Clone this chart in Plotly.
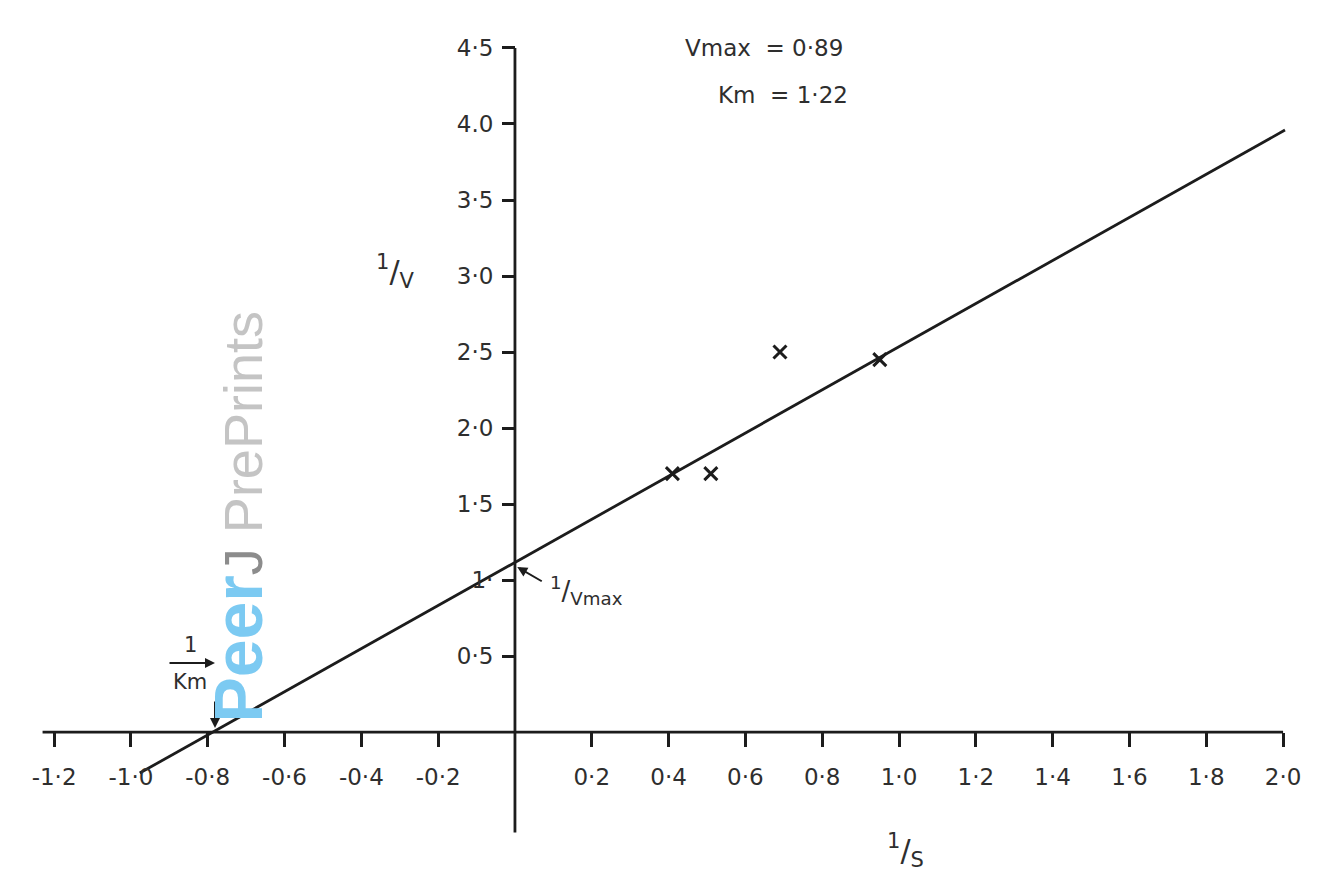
import plotly.graph_objects as go

# ---- data ----
s_inv = [0.41, 0.51, 0.69, 0.95]          # 1/S of measured points
v_inv = [1.70, 1.70, 2.50, 2.45]          # 1/V of measured points
fit_x = [-0.977, 2.005]                   # ends of fitted line (1/S)
fit_y = [-0.27, 3.96]                     # ends of fitted line (1/V)

x_ticks = [-1.2, -1.0, -0.8, -0.6, -0.4, -0.2, 0.2, 0.4, 0.6, 0.8, 1.0, 1.2, 1.4, 1.6, 1.8, 2.0]
x_labels = ["-1·2", "-1·0", "-0·8", "-0·6", "-0·4", "-0·2", "0·2", "0·4", "0·6", "0·8",
            "1·0", "1·2", "1·4", "1·6", "1·8", "2·0"]
y_ticks = [0.5, 1.0, 1.5, 2.0, 2.5, 3.0, 3.5, 4.0, 4.5]
y_labels = ["0·5", "1·", "1·5", "2·0", "2·5", "3·0", "3·5", "4.0", "4·5"]

vmax = "0·89"
km = "1·22"

X_RANGE = [-1.320, 2.130]
Y_RANGE = [-0.993, 4.763]
INK = "#1c1c1c"
TXT = "#2e2e2e"
FONT = "DejaVu Sans"

fig = go.Figure()

fig.add_trace(go.Scatter(x=fit_x, y=fit_y, mode="lines",
                         line=dict(color=INK, width=2.8), hoverinfo="skip"))
fig.add_trace(go.Scatter(x=s_inv, y=v_inv, mode="markers",
                         marker=dict(symbol="x-thin", size=13,
                                     line=dict(color=INK, width=3))))

# axis lines crossing at the origin
fig.add_shape(type="line", x0=min(x_ticks) - 0.03, x1=max(x_ticks), y0=0, y1=0,
              line=dict(color=INK, width=2.8), layer="below")
fig.add_shape(type="line", x0=0, x1=0, y0=-0.66, y1=max(y_ticks),
              line=dict(color=INK, width=2.8), layer="below")

xpos = (0 - Y_RANGE[0]) / (Y_RANGE[1] - Y_RANGE[0])
ypos = (0 - X_RANGE[0]) / (X_RANGE[1] - X_RANGE[0])

fig.update_xaxes(range=X_RANGE, anchor="free", position=xpos, showgrid=False,
                 zeroline=False, showline=False, tickmode="array", automargin=False,
                 tickvals=x_ticks, ticktext=x_labels, ticks="outside",
                 ticklen=14, tickwidth=2.5, tickcolor=INK, ticklabelstandoff=10,
                 tickfont=dict(family=FONT, size=23, color=TXT))
fig.update_yaxes(range=Y_RANGE, anchor="free", position=ypos, showgrid=False,
                 zeroline=False, showline=False, tickmode="array", automargin=False,
                 tickvals=y_ticks, ticktext=y_labels, ticks="outside",
                 ticklen=13, tickwidth=2.5, tickcolor=INK, ticklabelstandoff=4,
                 tickfont=dict(family=FONT, size=23, color=TXT))

def note(text, x, y, size=23, xanchor="center", yanchor="middle"):
    fig.add_annotation(x=x, y=y, text=text, showarrow=False, xanchor=xanchor,
                       yanchor=yanchor, font=dict(family=FONT, size=size, color=TXT))

note(f"Vmax  = {vmax}", 0.859, 4.50, xanchor="right")
note(f"Km  = {km}", 0.872, 4.19, xanchor="right")
note("<sup>1</sup>/<sub>V</sub>", -0.3125, 3.03, size=30)
note("<sup>1</sup>/<sub>S</sub>", 1.016, -0.776, size=30)
note("<sup>1</sup>/<sub>Vmax</sub>", 0.086, 0.93, size=26, xanchor="left")
note("1", -0.846, 0.572, size=21)
note("Km", -0.846, 0.33, size=21)

# arrows
fig.add_annotation(x=0.006, y=1.085, ax=26, ay=15, text="", showarrow=True,
                   arrowhead=2, arrowsize=1, arrowwidth=2, arrowcolor=INK)
fig.add_annotation(x=-0.781, y=0.454, ax=-47, ay=0, text="", showarrow=True,
                   arrowhead=2, arrowsize=1, arrowwidth=2, arrowcolor=INK)
fig.add_annotation(x=-0.781, y=0.026, ax=0, ay=-28, text="", showarrow=True,
                   arrowhead=2, arrowsize=1, arrowwidth=2, arrowcolor=INK)

# watermark
fig.add_annotation(x=-0.72, y=1.42, textangle=-90, showarrow=False,
                   text="<b><span style='color:#7ccaf2;font-size:68px'>Peer</span></b>"
                        "<span style='color:#8c8c8c'>J</span> "
                        "<span style='color:#c4c4c4'>PrePrints</span>",
                   font=dict(family="Liberation Sans", size=54))

fig.update_layout(width=1325, height=875, margin=dict(l=0, r=0, t=0, b=0),
                  paper_bgcolor="white", plot_bgcolor="white", showlegend=False)

fig.write_html("out.html")
